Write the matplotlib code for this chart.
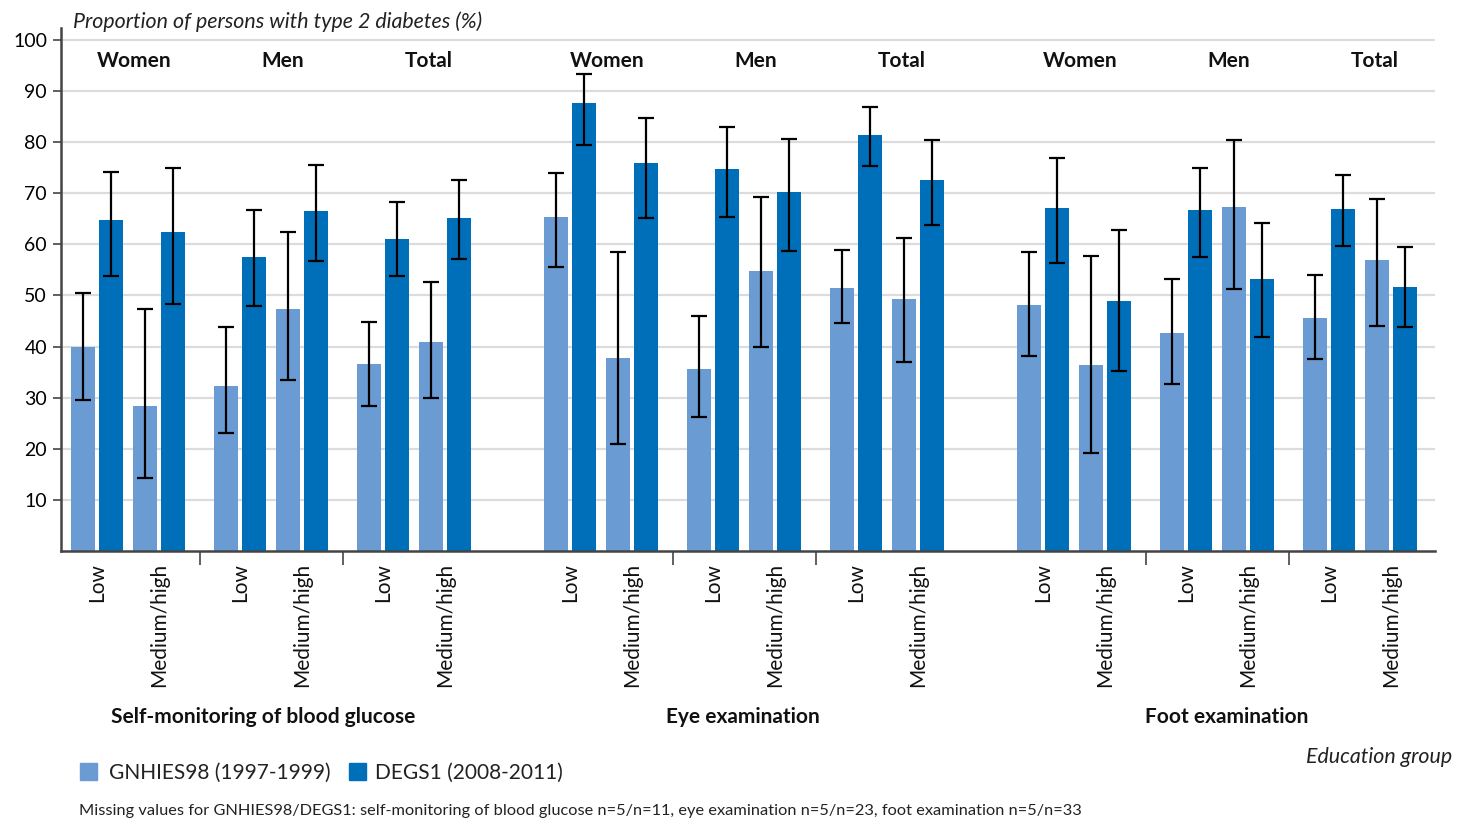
import numpy as np
import matplotlib
matplotlib.use("Agg")
import matplotlib.pyplot as plt
from matplotlib.patches import Rectangle

plt.rcParams['font.family'] = ['Lato', 'DejaVu Sans']

# Data (percent) -- order: measure -> sex -> education
measures = ["Self-monitoring of blood glucose", "Eye examination", "Foot examination"]
sexes = ["Women", "Men", "Total"]
edu_groups = ["Low", "Medium/high"]
series = ["GNHIES98 (1997-1999)", "DEGS1 (2008-2011)"]

gnhies_val = [40.0, 28.4, 32.3, 47.4, 36.6, 40.9,
              65.4, 37.8, 35.6, 54.8, 51.5, 49.3,
              48.1, 36.4, 42.7, 67.3, 45.6, 56.9]
gnhies_lo = [29.5, 14.3, 23.0, 33.4, 28.4, 29.9,
             55.6, 20.9, 26.2, 40.0, 44.6, 37.0,
             38.2, 19.2, 32.6, 51.3, 37.5, 44.1]
gnhies_hi = [50.5, 47.4, 43.8, 62.4, 44.8, 52.7,
             74.0, 58.5, 46.0, 69.2, 58.8, 61.2,
             58.5, 57.7, 53.2, 80.4, 53.9, 68.9]

degs_val = [64.8, 62.4, 57.5, 66.5, 61.1, 65.2,
            87.7, 75.9, 74.8, 70.3, 81.4, 72.6,
            67.1, 48.9, 66.7, 53.2, 66.9, 51.7]
degs_lo = [53.8, 48.3, 48.0, 56.8, 53.8, 57.2,
           79.5, 65.1, 65.4, 58.6, 75.3, 63.7,
           56.4, 35.2, 57.5, 41.9, 59.7, 43.9]
degs_hi = [74.2, 75.0, 66.7, 75.5, 68.2, 72.5,
           93.3, 84.6, 82.9, 80.6, 86.8, 80.3,
           76.8, 62.7, 75.0, 64.1, 73.5, 59.4]

col_old = "#6a9bd2"
col_new = "#006fba"

# layout steps (in pixel-like units)
M_STEP, S_STEP, E_STEP, OFF, W = 473, 143, 62, 14, 24
SEX_LABEL_OFF = [37, 186, 332]
MEAS_LABEL_X = [166, 645.5, 1129.5]

centers = []
seps = []
sex_label_x = []
for m in range(len(measures)):
    for s in range(len(sexes)):
        for e in range(len(edu_groups)):
            centers.append(m * M_STEP + s * S_STEP + e * E_STEP)
        sex_label_x.append(m * M_STEP + SEX_LABEL_OFF[s])
        if s < len(sexes) - 1:
            seps.append(m * M_STEP + s * S_STEP + E_STEP + (S_STEP - E_STEP) / 2)
centers = np.array(centers, dtype=float)

gv, gl, gh = map(np.array, (gnhies_val, gnhies_lo, gnhies_hi))
dv, dl, dh = map(np.array, (degs_val, degs_lo, degs_hi))

fig = plt.figure(figsize=(14.72, 8.19), dpi=100)
ax = fig.add_axes([61 / 1472, 1 - 551 / 819, (1435 - 61) / 1472, (551 - 28) / 819])

ax.bar(centers - OFF, gv, width=W, color=col_old, zorder=2)
ax.bar(centers + OFF, dv, width=W, color=col_new, zorder=2)
ekw = dict(fmt="none", ecolor="black", elinewidth=1.6, capsize=5.5, capthick=1.6, zorder=3)
ax.errorbar(centers - OFF, gv, yerr=[gv - gl, gh - gv], **ekw)
ax.errorbar(centers + OFF, dv, yerr=[dv - dl, dh - dv], **ekw)

ax.set_xlim(61 - 97, 1435 - 97)
ax.set_ylim(0, 102.3)
ax.set_yticks(np.arange(10, 101, 10))
ax.tick_params(axis="y", labelsize=14, length=6, width=1.2, color="#444444", pad=4)
ax.yaxis.grid(True, color="#dcdcdc", linewidth=1.6, zorder=0)
ax.set_axisbelow(True)

for sp in ["top", "right"]:
    ax.spines[sp].set_visible(False)
for sp in ["left", "bottom"]:
    ax.spines[sp].set_color("#444444")
    ax.spines[sp].set_linewidth(1.8)

# x ticks: separators between sexes, labels as text
ax.set_xticks(seps)
ax.set_xticklabels([])
ax.tick_params(axis="x", length=10, width=1.2, color="#444444")

for i, c in enumerate(centers):
    ax.text(c, -2.3, edu_groups[i % 2], rotation=90, ha="center", va="top",
            fontsize=15, color="#111111")

for i, c in enumerate(sex_label_x):
    ax.text(c, 95.8, sexes[i % 3], ha="center", va="center",
            fontsize=15, fontweight="bold", color="#111111")

for i, c in enumerate(MEAS_LABEL_X):
    ax.text(c, -32.5, measures[i], ha="center", va="center",
            fontsize=15, fontweight="bold", color="#111111")

fig.text(73 / 1472, 1 - 21.5 / 819, "Proportion of persons with type 2 diabetes (%)",
         ha="left", va="center", fontsize=15.4, style="italic", color="#222222")
fig.text(1452 / 1472, 1 - 757 / 819, "Education group", ha="right", va="center",
         fontsize=15.4, style="italic", color="#222222")

# legend drawn by hand
for x_sq, x_txt, col, lab in [(80, 109, col_old, series[0]), (349, 375, col_new, series[1])]:
    fig.patches.append(Rectangle((x_sq / 1472, 1 - 780 / 819), 17 / 1472, 17 / 819,
                                 transform=fig.transFigure, color=col))
    fig.text(x_txt / 1472, 1 - 772.5 / 819, lab, ha="left", va="center",
             fontsize=15, color="#222222")

fig.text(79 / 1472, 1 - 810.5 / 819,
         "Missing values for GNHIES98/DEGS1: self-monitoring of blood glucose n=5/n=11, "
         "eye examination n=5/n=23, foot examination n=5/n=33",
         ha="left", va="center", fontsize=11.8, color="#222222")

fig.savefig("out.png", dpi=100)
